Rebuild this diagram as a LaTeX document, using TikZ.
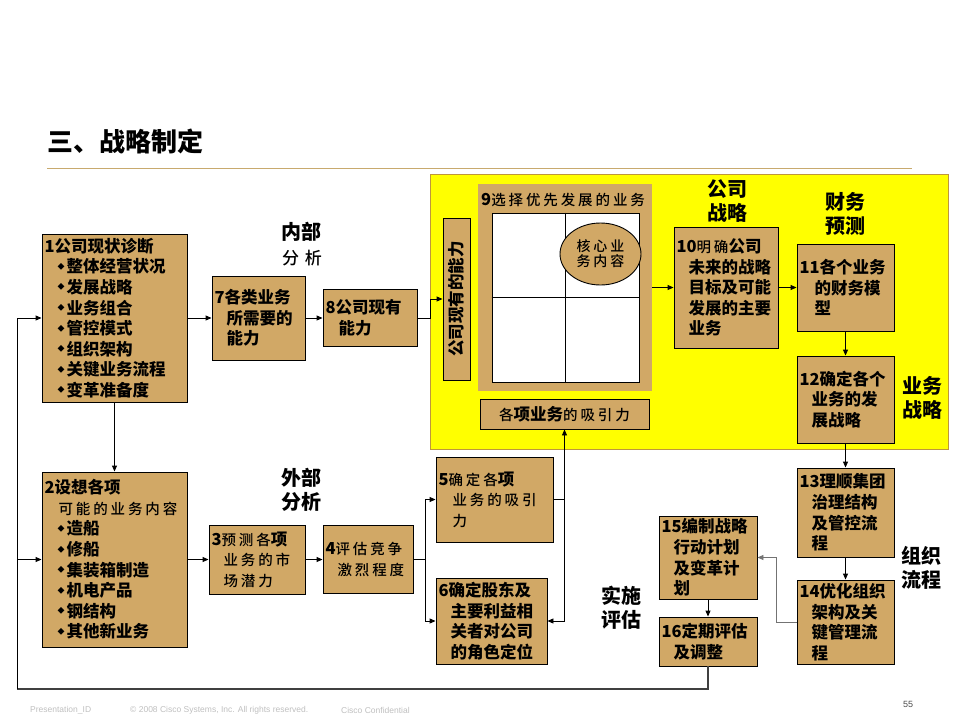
\documentclass[tikz,border=0pt]{standalone}
\usepackage{fontspec}
\setmainfont{Noto Sans CJK SC}
\newfontfamily\kaif{Noto Sans CJK SC}[UprightFont=* Medium, LetterSpace=20]
\newfontfamily\latf{Liberation Sans}
\usetikzlibrary{arrows.meta,shapes.geometric}
\definecolor{tanbox}{RGB}{209,168,102}
\definecolor{ylw}{RGB}{255,255,0}
\definecolor{ylwb}{RGB}{190,150,60}
\definecolor{rulec}{RGB}{200,170,110}
\newcommand\ks[1]{{\kaif\mdseries\fontsize{14.5}{20.6}\selectfont #1}}
\newcommand\ind{\hspace*{12pt}}
\newcommand\bul{\hspace*{13pt}\makebox[9pt][l]{\raisebox{3.5pt}{\fontsize{7}{7}\selectfont ◆}}}
\tikzset{
  box/.style={draw=black, fill=tanbox, line width=0.9pt, inner sep=2.5pt, align=left,
    font=\bfseries\fontsize{16.5}{20.6}\selectfont},
  lbl/.style={font=\bfseries\fontsize{20}{24}\selectfont, align=center, inner sep=0pt},
  arr/.style={draw, line width=0.9pt, -{Triangle[length=6pt,width=5pt]}},
  ln/.style={draw, line width=0.9pt},
  foot/.style={anchor=west, inner sep=0pt, text=black!25, font=\latf\fontsize{8.5}{10}\selectfont}
}
\begin{document}
\begin{tikzpicture}[x=1pt,y=-1pt]
\useasboundingbox (0,0) rectangle (960,720);
% title
\node[anchor=west, inner sep=0pt, font=\bfseries\fontsize{26}{30}\selectfont] (title) at (47,141.5) {三、战略制定};
\draw[rulec, line width=1pt] (47,168) -- (912,168);
% yellow panel
\node[draw=ylwb, fill=ylw, line width=1pt, minimum width=518pt, minimum height=275pt, inner sep=0pt] (panel) at (689,311.5) {};
% labels
\node[lbl] (linner) at (301,232) {内部};
\node[inner sep=0pt, font=\kaif\fontsize{17}{20}\selectfont] (linnerb) at (302,258) {分\hspace{6pt}析};
\node[lbl] (louter) at (301,490) {外部\\分析};
\node[lbl] (lcorp) at (727,201) {公司\\战略};
\node[lbl] (lfin) at (845,213.5) {财务\\预测};
\node[lbl] (lbiz) at (922,398) {业务\\战略};
\node[lbl] (lorg) at (921,568) {组织\\流程};
\node[lbl] (limpl) at (621,607.5) {实施\\评估};
% boxes
\node[box, minimum width=145pt, minimum height=168pt, text width=140pt] (n1) at (114.5,318)
 {1公司现状诊断\\\bul 整体经营状况\\\bul 发展战略\\\bul 业务组合\\\bul 管控模式\\\bul 组织架构\\\bul 关键业务流程\\\bul 变革准备度};
\node[box, minimum width=93pt, minimum height=84pt, text width=88pt] (n7) at (258.5,318)
 {7各类业务\\\ind 所需要的\\\ind 能力};
\node[box, minimum width=94pt, minimum height=57pt, text width=89pt] (n8) at (370,318)
 {8公司现有\\\hspace*{13pt}能力};
\node[box, minimum width=27pt, minimum height=162pt] (V) at (456.5,299) {};
\node[rotate=90, inner sep=0pt, font=\bfseries\fontsize{16.5}{20}\selectfont] (Vt) at (V.center) {公司现有的能力};
% box 9
\node[fill=tanbox, minimum width=174pt, minimum height=207pt, inner sep=0pt] (n9) at (565,287.5) {};
\node[anchor=west, inner sep=0pt, font=\bfseries\fontsize{16.5}{20}\selectfont] (n9t) at (481,200) {9\ks{选择优先发展的业务}};
\node[draw=black, fill=white, line width=0.9pt, minimum width=147pt, minimum height=169pt, inner sep=0pt] (grid) at (565.5,297.5) {};
\draw[line width=0.9pt] (grid.north) -- (grid.south);
\draw[line width=0.9pt] (grid.west) -- (grid.east);
\node[draw=black, fill=tanbox, line width=0.9pt, ellipse, minimum width=81pt, minimum height=62pt, inner sep=0pt, align=center, font=\kaif\fontsize{14}{15}\selectfont] (core) at (600.5,254) {核心业\\务内容};
\node[box, minimum width=169pt, minimum height=30pt, align=center] (att) at (564.5,414) {\ks{各}项业务\ks{的吸引力}};
\node[box, minimum width=104pt, minimum height=121pt, text width=99pt] (n10) at (726,287.5)
 {10\ks{明确}公司\\\ind 未来的战略\\\ind 目标及可能\\\ind 发展的主要\\\ind 业务};
\node[box, minimum width=97pt, minimum height=87pt, text width=92pt] (n11) at (845.5,287.5)
 {11各个业务\\\hspace*{15pt}的财务模\\\hspace*{15pt}型};
\node[box, minimum width=97pt, minimum height=87pt, text width=92pt] (n12) at (845.5,399.5)
 {12确定各个\\\ind 业务的发\\\ind 展战略};
\node[box, minimum width=97pt, minimum height=89pt, text width=92pt] (n13) at (845.5,512.5)
 {13理顺集团\\\ind 治理结构\\\ind 及管控流\\\ind 程};
\node[box, minimum width=97pt, minimum height=84pt, text width=92pt] (n14) at (845.5,622)
 {14优化组织\\\ind 架构及关\\\ind 键管理流\\\ind 程};
\node[box, minimum width=98pt, minimum height=83pt, text width=93pt] (n15) at (708,557.5)
 {15编制战略\\\ind 行动计划\\\ind 及变革计\\\ind 划};
\node[box, minimum width=98pt, minimum height=49pt, text width=93pt] (n16) at (708,641.5)
 {16定期评估\\\ind 及调整};
\node[box, minimum width=145pt, minimum height=175pt, text width=140pt] (n2) at (114.5,559.5)
 {2设想各项\\\hspace*{14pt}\ks{可能的业务内容}\\\bul 造船\\\bul 修船\\\bul 集装箱制造\\\bul 机电产品\\\bul 钢结构\\\bul 其他新业务};
\node[box, minimum width=96pt, minimum height=69pt, text width=91pt] (n3) at (257,559.5)
 {3\ks{预测各}项\\\ind\ks{业务的市}\\\ind\ks{场潜力}};
\node[box, minimum width=90pt, minimum height=68pt, text width=85pt] (n4) at (368,559.5)
 {4\ks{评估竞争}\\\ind\ks{激烈程度}};
\node[box, minimum width=117pt, minimum height=85pt, text width=112pt] (n5) at (494.5,499.5)
 {5\ks{确定各}项\\\hspace*{14pt}\ks{业务的吸引}\\\hspace*{14pt}\ks{力}};
\node[box, minimum width=111pt, minimum height=86pt, text width=106pt] (n6) at (491.5,621)
 {6确定股东及\\\ind 主要利益相\\\ind 关者对公司\\\ind 的角色定位};
% connectors
\draw[arr] (n1.east) -- (n7.west);
\draw[arr] (n7.east) -- (n8.west);
\draw[arr] (n8.east) -- ++(13,0) |- (V.west);
\draw[arr] (n9.east) -- (n10.west);
\draw[arr] (n10.east) -- (n11.west);
\draw[arr] (n11.south) -- (n12.north);
\draw[arr] (n12.south) -- (n13.north);
\draw[arr] (n13.south) -- (n14.north);
\draw[arr, draw=black!55] (n14.west) -- ++(-20,0) |- (n15.east);
\draw[arr] (n15.south) -- (n16.north);
\coordinate (fb) at (17,689);
\draw[line width=2pt, draw=black!75] (n16.south) |- (fb);
\draw[arr] (fb) |- (n1.west);
\draw[arr] (fb) |- (n2.west);
\draw[arr] (n1.south) -- (n2.north);
\draw[arr] (n2.east) -- (n3.west);
\draw[arr] (n3.east) -- (n4.west);
\coordinate (j4) at (425,559.5);
\draw[ln] (n4.east) -- (j4);
\draw[arr] (j4) |- (n5.west);
\draw[arr] (j4) |- (n6.west);
\coordinate (j5) at (564.5,499.5);
\draw[ln] (n5.east) -- (j5);
\draw[arr] (j5) -- (att.south);
\draw[arr] (j5) |- (n6.east);
% footer
\node[foot] (f1) at (30,710) {Presentation\_ID};
\node[foot] (f2) at (130,710) {© 2008 Cisco Systems, Inc. All rights reserved.};
\node[foot] (f3) at (341,710) {Cisco Confidential};
\node[inner sep=0pt, text=black!70, font=\latf\fontsize{9}{10}\selectfont] (pg) at (908,704) {55};
\end{tikzpicture}
\end{document}
